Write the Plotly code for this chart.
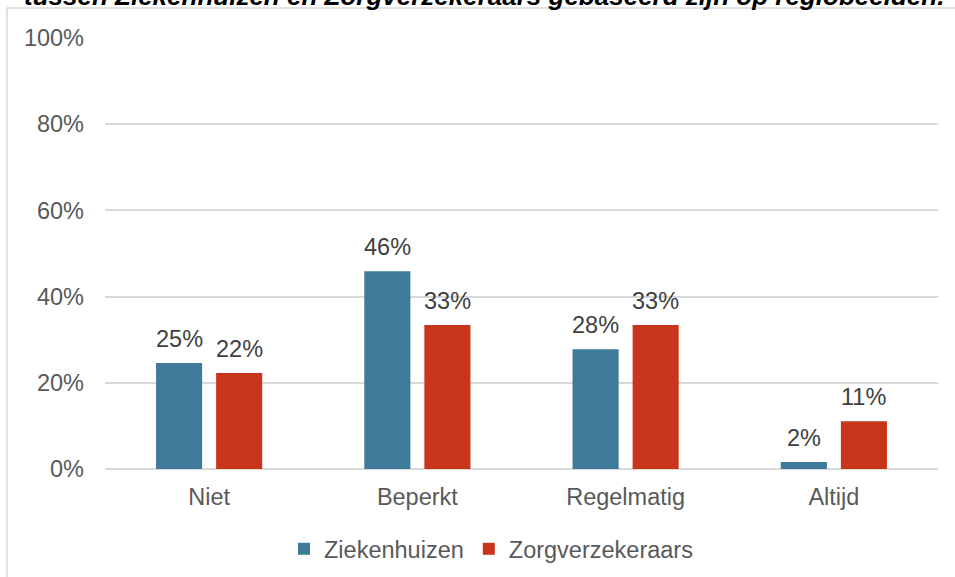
import plotly.graph_objects as go

categories = ["Niet", "Beperkt", "Regelmatig", "Altijd"]
ziekenhuizen = [24.6, 45.9, 27.8, 1.6]
zorgverzekeraars = [22.3, 33.4, 33.4, 11.1]
ziek_labels = ["25%", "46%", "28%", "2%"]
zorg_labels = ["22%", "33%", "33%", "11%"]
y_ticks = [0, 20, 40, 60, 80, 100]
y_tick_labels = ["0%", "20%", "40%", "60%", "80%", "100%"]
title_text = "tussen Ziekenhuizen en Zorgverzekeraars gebaseerd zijn op regiobeelden."

W, H = 955, 577
L, R, T, B = 105, 17, 38, 108
pw, ph = W - L - R, H - T - B

def px_x(x):
    return (x - L) / pw

def px_y(y):
    return (H - B - y) / ph

font = "Liberation Sans, Arial, sans-serif"
fs = 23.5

fig = go.Figure()
fig.add_trace(go.Bar(name="Ziekenhuizen", x=categories, y=ziekenhuizen,
                     marker=dict(color="#3E7A99", line=dict(width=0))))
fig.add_trace(go.Bar(name="Zorgverzekeraars", x=categories, y=zorgverzekeraars,
                     marker=dict(color="#C8351A", line=dict(width=0))))

annotations = []
for vals, labels, shift in ((ziekenhuizen, ziek_labels, -30), (zorgverzekeraars, zorg_labels, 30)):
    for c, v, t in zip(categories, vals, labels):
        annotations.append(dict(x=c, y=v, xref="x", yref="y", text=t, showarrow=False,
                                xanchor="center", yanchor="middle", xshift=shift, yshift=24,
                                font=dict(size=fs, color="#404040", family=font)))
annotations.append(dict(text="<b><i>" + title_text + "</i></b>", xref="paper", yref="paper",
                        x=px_x(946), y=px_y(-4), xanchor="right", yanchor="middle",
                        showarrow=False, font=dict(size=26, color="#000000", family=font)))

fig.update_layout(
    width=W, height=H,
    margin=dict(l=L, r=R, t=T, b=B, autoexpand=False),
    barmode="group", bargap=0.423, bargroupgap=0.233,
    plot_bgcolor="white", paper_bgcolor="white",
    font=dict(family=font, color="#595959", size=fs),
    showlegend=True,
    legend=dict(orientation="h", x=px_x(491), xanchor="center", y=px_y(549), yanchor="middle",
                font=dict(size=fs, color="#595959"), itemwidth=30, traceorder="normal"),
    xaxis=dict(showgrid=False, showline=False, ticks="", ticklabelstandoff=11, automargin=False,
               tickfont=dict(size=fs, color="#595959")),
    yaxis=dict(range=[0, 100], tickvals=y_ticks, ticktext=y_tick_labels, showgrid=True,
               gridcolor="#D9D9D9", gridwidth=1.5, zeroline=True, zerolinecolor="#D9D9D9",
               zerolinewidth=1.5, ticks="", ticklabelstandoff=20, automargin=False,
               tickfont=dict(size=fs, color="#595959")),
    shapes=[dict(type="rect", xref="paper", yref="paper",
                 x0=px_x(7), x1=px_x(990), y0=px_y(8), y1=px_y(620),
                 line=dict(color="#D9D9D9", width=1.5), fillcolor="rgba(0,0,0,0)", layer="below")],
    annotations=annotations,
)

fig.write_html("out.html", config={"displayModeBar": False},
               post_script="document.body.style.margin='0';document.body.style.overflow='hidden';")
